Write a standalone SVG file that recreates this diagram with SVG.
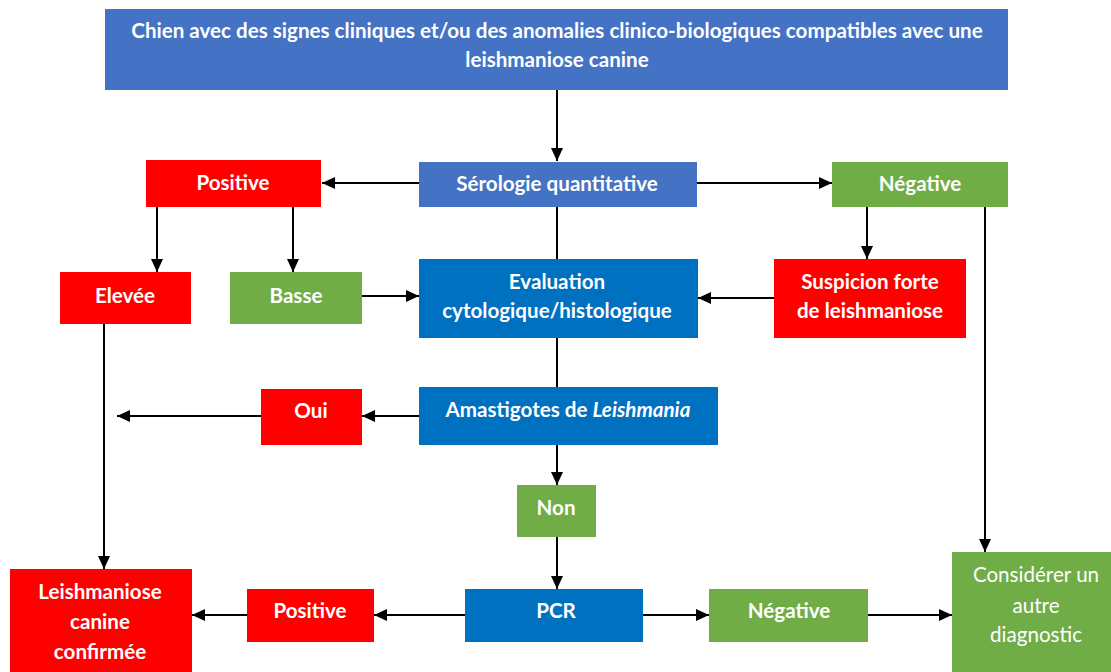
<svg xmlns="http://www.w3.org/2000/svg" width="1111" height="672" viewBox="0 0 1111 672">
<defs>
<style>
.t{font-family:Lato,"Open Sans","Liberation Sans",sans-serif;font-weight:bold;font-size:20.6px;fill:#fff;text-anchor:middle}
.n{font-weight:normal}
.b1{fill:#4472C4}
.b2{fill:#0070C0}
.r{fill:#FF0000}
.g{fill:#70AD47}
.c{stroke:#000;stroke-width:2;fill:none}
.a{marker-end:url(#ah)}
</style>
<marker id="ah" markerUnits="userSpaceOnUse" markerWidth="13" markerHeight="12" viewBox="0 0 13 12" refX="13" refY="6" orient="auto">
<path d="M0,0 L13,6 L0,12 Z" fill="#000"/>
</marker>
</defs>
<rect width="1111" height="672" fill="#fff"/>
<g id="connectors">
<line class="c a" x1="557" y1="90" x2="557" y2="161"/>
<line class="c a" x1="419" y1="183" x2="322" y2="183"/>
<line class="c a" x1="697" y1="183" x2="832" y2="183"/>
<line class="c a" x1="157" y1="207" x2="157" y2="272"/>
<line class="c a" x1="293" y1="207" x2="293" y2="272"/>
<line class="c a" x1="362" y1="296" x2="419" y2="296"/>
<line class="c" x1="557" y1="207" x2="557" y2="259"/>
<line class="c a" x1="867" y1="207" x2="867" y2="259"/>
<line class="c a" x1="774" y1="298" x2="698" y2="298"/>
<line class="c a" x1="985" y1="207" x2="985" y2="552"/>
<line class="c" x1="557" y1="338" x2="557" y2="387"/>
<line class="c a" x1="419" y1="416" x2="362" y2="416"/>
<line class="c a" x1="261" y1="416" x2="117" y2="416"/>
<line class="c a" x1="104" y1="324" x2="104" y2="569"/>
<line class="c a" x1="557" y1="445" x2="557" y2="485"/>
<line class="c a" x1="557" y1="537" x2="557" y2="589"/>
<line class="c a" x1="465" y1="615" x2="374" y2="615"/>
<line class="c a" x1="247" y1="615" x2="192" y2="615"/>
<line class="c a" x1="643" y1="615" x2="709" y2="615"/>
<line class="c a" x1="868" y1="615" x2="952" y2="615"/>
</g>
<g id="top">
<rect class="b1" x="105" y="9" width="903" height="81"/>
<text class="t" x="557" y="38">Chien avec des signes cliniques et/ou des anomalies clinico-biologiques compatibles avec une</text>
<text class="t" x="557" y="67">leishmaniose canine</text>
</g>
<g id="serologie">
<rect class="b1" x="419" y="162" width="278" height="45"/>
<text class="t" x="557" y="191">Sérologie quantitative</text>
</g>
<g id="positive1">
<rect class="r" x="146" y="160" width="175" height="47"/>
<text class="t" x="233" y="190">Positive</text>
</g>
<g id="negative1">
<rect class="g" x="832" y="162" width="176" height="45"/>
<text class="t" x="920" y="191">Négative</text>
</g>
<g id="elevee">
<rect class="r" x="60" y="272" width="131" height="52"/>
<text class="t" x="125" y="303">Elevée</text>
</g>
<g id="basse">
<rect class="g" x="230" y="272" width="132" height="52"/>
<text class="t" x="296" y="303">Basse</text>
</g>
<g id="evaluation">
<rect class="b2" x="419" y="259" width="279" height="79"/>
<text class="t" x="557" y="289">Evaluation</text>
<text class="t" x="557" y="318">cytologique/histologique</text>
</g>
<g id="suspicion">
<rect class="r" x="774" y="259" width="192" height="79"/>
<text class="t" x="870" y="289">Suspicion forte</text>
<text class="t" x="870" y="318">de leishmaniose</text>
</g>
<g id="amastigotes">
<rect class="b2" x="419" y="387" width="299" height="58"/>
<text class="t" x="568" y="417">Amastigotes de <tspan font-style="italic">Leishmania</tspan></text>
</g>
<g id="oui">
<rect class="r" x="261" y="389" width="101" height="56"/>
<text class="t" x="311" y="418">Oui</text>
</g>
<g id="non">
<rect class="g" x="517" y="485" width="79" height="52"/>
<text class="t" x="556" y="515">Non</text>
</g>
<g id="pcr">
<rect class="b2" x="465" y="589" width="178" height="53"/>
<text class="t" x="556" y="618">PCR</text>
</g>
<g id="positive2">
<rect class="r" x="247" y="589" width="127" height="53"/>
<text class="t" x="310" y="618">Positive</text>
</g>
<g id="confirmee">
<rect class="r" x="10" y="569" width="182" height="103"/>
<text class="t" x="100" y="599">Leishmaniose</text>
<text class="t" x="100" y="629">canine</text>
<text class="t" x="100" y="659">confirmée</text>
</g>
<g id="negative2">
<rect class="g" x="709" y="589" width="159" height="53"/>
<text class="t" x="789" y="618">Négative</text>
</g>
<g id="autre">
<rect class="g" x="952" y="552" width="159" height="120"/>
<text class="t n" x="1036" y="582">Considérer un</text>
<text class="t n" x="1036" y="613">autre</text>
<text class="t n" x="1036" y="642">diagnostic</text>
</g>
</svg>
